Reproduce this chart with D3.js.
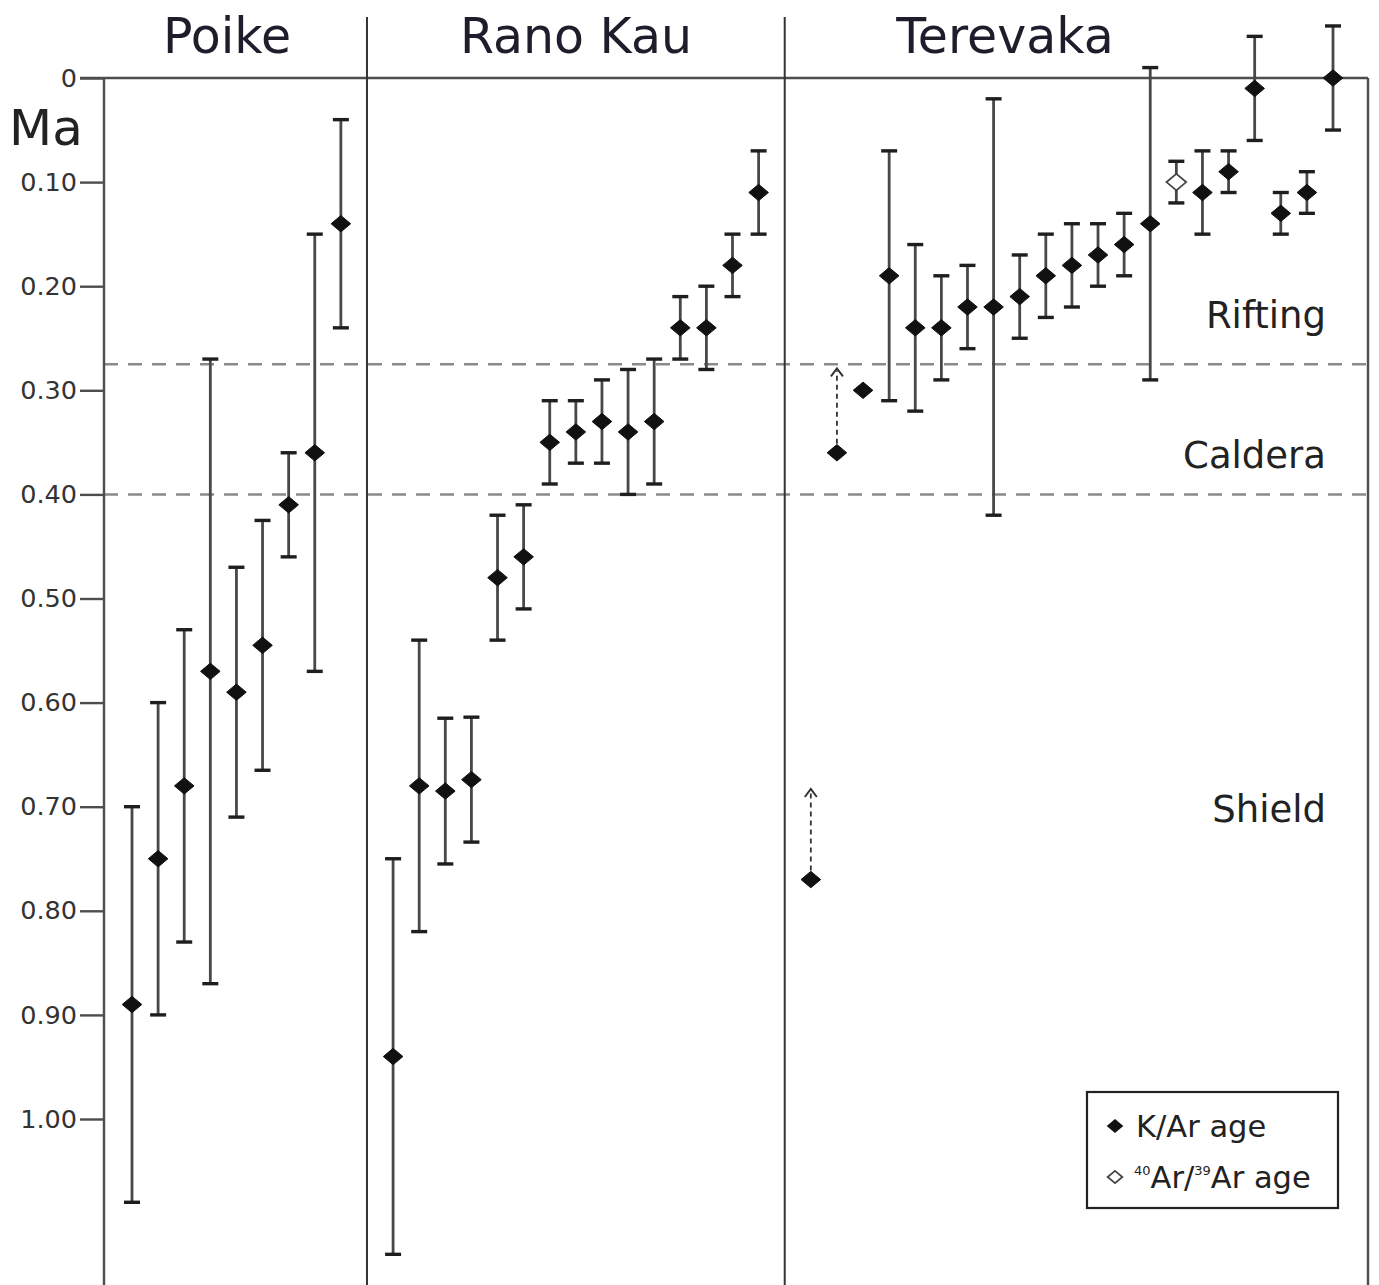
<!DOCTYPE html>
<html>
<head>
<meta charset="utf-8">
<script src="https://cdn.jsdelivr.net/npm/d3@7"></script>
<style>
  body { margin: 0; background: #fff; }
  svg { display: block; }
  text { font-family: "DejaVu Sans", Verdana, sans-serif; }
</style>
</head>
<body>
<svg id="chart" width="1379" height="1285"></svg>
<script>
// ---- Data: ages in Ma with 1-sigma errors, ordered oldest to youngest per volcano ----
const volcanoes = ["Poike", "Rano Kau", "Terevaka"];

const poikeAge = [0.89, 0.75, 0.68, 0.57, 0.59, 0.545, 0.41, 0.36, 0.14];
const poikeErr = [0.19, 0.15, 0.15, 0.30, 0.12, 0.12, 0.05, 0.21, 0.10];

const ranoKauAge = [0.94, 0.68, 0.685, 0.674, 0.48, 0.46, 0.35, 0.34, 0.33, 0.34, 0.33, 0.24, 0.24, 0.18, 0.11];
const ranoKauErr = [0.19, 0.14, 0.07, 0.06, 0.06, 0.05, 0.04, 0.03, 0.04, 0.06, 0.06, 0.03, 0.04, 0.03, 0.04];

const terevakaAge = [0.77, 0.36, 0.30, 0.19, 0.24, 0.24, 0.22, 0.22, 0.21, 0.19, 0.18, 0.17, 0.16, 0.14, 0.10, 0.11, 0.09, 0.01, 0.13, 0.11, 0.00];
const terevakaErr = [null, null, null, 0.12, 0.08, 0.05, 0.04, 0.20, 0.04, 0.04, 0.04, 0.03, 0.03, 0.15, 0.02, 0.04, 0.02, 0.05, 0.02, 0.02, 0.05];
const terevakaMethod = ["K/Ar", "K/Ar", "K/Ar", "K/Ar", "K/Ar", "K/Ar", "K/Ar", "K/Ar", "K/Ar", "K/Ar", "K/Ar",
                        "K/Ar", "K/Ar", "K/Ar", "Ar/Ar", "K/Ar", "K/Ar", "K/Ar", "K/Ar", "K/Ar", "K/Ar"];
// Reinterpreted (younger) ages shown as dashed arrows
const terevakaRevisedAge = [0.683, 0.279, null, null, null, null, null, null, null, null, null,
                            null, null, null, null, null, null, null, null, null, null];

const stageNames = ["Rifting", "Caldera", "Shield"];
const stageBounds = [0.275, 0.40];
const yTicks = [0, 0.1, 0.2, 0.3, 0.4, 0.5, 0.6, 0.7, 0.8, 0.9, 1.0];

// ---- Assemble samples with a running slot index (one blank slot between volcanoes) ----
const groups = [
  { name: volcanoes[0], age: poikeAge, err: poikeErr },
  { name: volcanoes[1], age: ranoKauAge, err: ranoKauErr },
  { name: volcanoes[2], age: terevakaAge, err: terevakaErr, method: terevakaMethod, revised: terevakaRevisedAge }
];
const samples = [];
const separators = [];
let slot = 0;
groups.forEach((g, gi) => {
  if (gi > 0) { separators.push(slot); slot += 1; }
  g.age.forEach((a, i) => {
    samples.push({
      group: g.name, slot: slot,
      age: a,
      err: g.err[i],
      method: g.method ? g.method[i] : "K/Ar",
      revised: g.revised ? g.revised[i] : null
    });
    slot += 1;
  });
});
const lastSlot = slot - 1;

// ---- Layout ----
const W = 1379, H = 1285;
const plotLeft = 104, plotRight = 1368;

const svg = d3.select("#chart");
const x = d3.scaleLinear().domain([0, lastSlot]).range([132, 1333]);
const y = d3.scaleLinear().domain([0, 1]).range([78, 1119]);

const frameColor = "#4d4d4d";

// Stage boundaries (dashed)
svg.append("g").selectAll("line").data(stageBounds).join("line")
  .attr("x1", plotLeft).attr("x2", plotRight)
  .attr("y1", d => y(d)).attr("y2", d => y(d))
  .attr("stroke", "#8a8a8a").attr("stroke-width", 2.5)
  .attr("stroke-dasharray", "14 10");

// Frame: top, left, right
svg.append("line").attr("x1", 80).attr("x2", plotRight).attr("y1", y(0)).attr("y2", y(0))
  .attr("stroke", frameColor).attr("stroke-width", 2.4);
svg.append("line").attr("x1", plotLeft).attr("x2", plotLeft).attr("y1", y(0)).attr("y2", H)
  .attr("stroke", frameColor).attr("stroke-width", 2.4);
svg.append("line").attr("x1", plotRight).attr("x2", plotRight).attr("y1", y(0)).attr("y2", H)
  .attr("stroke", frameColor).attr("stroke-width", 2.4);

// Volcano separators (extend up into the title row)
svg.append("g").selectAll("line").data(separators).join("line")
  .attr("x1", d => x(d)).attr("x2", d => x(d))
  .attr("y1", 17).attr("y2", H)
  .attr("stroke", "#333").attr("stroke-width", 2);

// Y axis
const yAxis = d3.axisLeft(y)
  .tickValues(yTicks)
  .tickSize(24)
  .tickPadding(3)
  .tickFormat(d => d === 0 ? "0" : d3.format(".2f")(d));
const yAxisG = svg.append("g").attr("transform", `translate(${plotLeft},0)`).call(yAxis);
yAxisG.select(".domain").remove();
yAxisG.selectAll(".tick line").attr("stroke", frameColor).attr("stroke-width", 2.4);
yAxisG.selectAll(".tick text")
  .attr("fill", "#333").style("font-size", "25.5px")
  .style("font-family", "\"DejaVu Sans\", Verdana, sans-serif");

// Unit label
svg.append("text").attr("x", 9).attr("y", 145)
  .attr("fill", "#222").style("font-size", "50px").text("Ma");

// Volcano titles
const titleX = [227, 576, 1005];
svg.append("g").selectAll("text").data(volcanoes).join("text")
  .attr("x", (d, i) => titleX[i]).attr("y", 53)
  .attr("text-anchor", "middle")
  .attr("fill", "#1d1d2b").style("font-size", "49px")
  .text(d => d);

// Stage labels
const stageLabelY = [328, 468, 822];
svg.append("g").selectAll("text").data(stageNames).join("text")
  .attr("x", 1326).attr("y", (d, i) => stageLabelY[i])
  .attr("text-anchor", "end")
  .attr("fill", "#222").style("font-size", "37px")
  .text(d => d);

// Wide, flat diamond marker
const flatDiamond = {
  draw(ctx, size) {
    const w = Math.sqrt(size) * 0.62, h = Math.sqrt(size) * 0.52;
    ctx.moveTo(0, -h); ctx.lineTo(w, 0); ctx.lineTo(0, h); ctx.lineTo(-w, 0); ctx.closePath();
  }
};
const marker = d3.symbol().type(flatDiamond);

// Error bars
const withErr = samples.filter(d => d.err != null);
const bars = svg.append("g").selectAll("g").data(withErr).join("g");
bars.append("line")
  .attr("x1", d => x(d.slot)).attr("x2", d => x(d.slot))
  .attr("y1", d => y(d.age - d.err)).attr("y2", d => y(d.age + d.err))
  .attr("stroke", "#484848").attr("stroke-width", 2.8);
bars.selectAll("line.cap").data(d => [d.age - d.err, d.age + d.err].map(v => ({ s: d.slot, v })))
  .join("line").attr("class", "cap")
  .attr("x1", d => x(d.s) - 8).attr("x2", d => x(d.s) + 8)
  .attr("y1", d => y(d.v)).attr("y2", d => y(d.v))
  .attr("stroke", "#1e1e1e").attr("stroke-width", 3.4);

// Revised-age arrows (dashed shaft with open chevron head)
const arrows = samples.filter(d => d.revised != null);
const ag = svg.append("g").selectAll("g").data(arrows).join("g");
ag.append("line")
  .attr("x1", d => x(d.slot)).attr("x2", d => x(d.slot))
  .attr("y1", d => y(d.age) - 9).attr("y2", d => y(d.revised) + 2)
  .attr("stroke", "#333").attr("stroke-width", 1.8).attr("stroke-dasharray", "5 4");
ag.append("path")
  .attr("d", d => `M${x(d.slot) - 6},${y(d.revised) + 8} L${x(d.slot)},${y(d.revised)} L${x(d.slot) + 6},${y(d.revised) + 8}`)
  .attr("fill", "none").attr("stroke", "#333").attr("stroke-width", 2);

// Age markers
svg.append("g").selectAll("path").data(samples).join("path")
  .attr("transform", d => `translate(${x(d.slot)},${y(d.age)})`)
  .attr("d", marker.size(250))
  .attr("fill", d => d.method === "Ar/Ar" ? "#fff" : "#111")
  .attr("stroke", d => d.method === "Ar/Ar" ? "#444" : "#111")
  .attr("stroke-width", d => d.method === "Ar/Ar" ? 1.8 : 1);

// Legend
const lg = svg.append("g");
lg.append("rect").attr("x", 1087).attr("y", 1092).attr("width", 251).attr("height", 116)
  .attr("fill", "#fff").attr("stroke", "#222").attr("stroke-width", 2.2);
lg.append("path").attr("transform", "translate(1115,1126)")
  .attr("d", d3.symbol().type(flatDiamond).size(180)()).attr("fill", "#111");
lg.append("path").attr("transform", "translate(1115,1177)")
  .attr("d", d3.symbol().type(flatDiamond).size(140)())
  .attr("fill", "#fff").attr("stroke", "#444").attr("stroke-width", 1.8);
lg.append("text").attr("x", 1136).attr("y", 1137)
  .attr("fill", "#222").style("font-size", "30.5px").text("K/Ar age");
const t2 = lg.append("text").attr("x", 1134).attr("y", 1188)
  .attr("fill", "#222").style("font-size", "30.5px");
t2.append("tspan").style("font-size", "13px").attr("dy", -13).text("40");
t2.append("tspan").attr("dy", 13).text("Ar/");
t2.append("tspan").style("font-size", "13px").attr("dy", -13).text("39");
t2.append("tspan").attr("dy", 13).text("Ar age");
</script>
</body>
</html>
